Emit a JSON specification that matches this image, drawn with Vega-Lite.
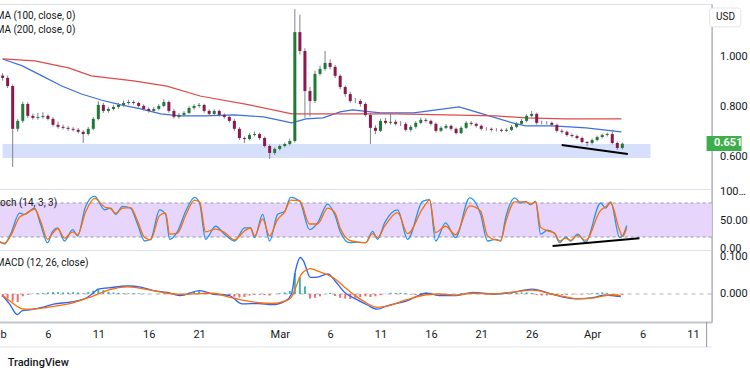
{
"$schema":"https://vega.github.io/schema/vega-lite/v6.json",
"background":"#ffffff",
"padding":{"left":-12.4,"top":3,"right":0,"bottom":0},
"spacing":0,
"bounds":"flush",
"config":{"view":{"stroke":"#e0e3eb"},"font":"Roboto","axis":{"labelFont":"Roboto","labelFontSize":11,"labelColor":"#131722","ticks":false,"grid":false,"domainColor":"#9598a1"}},
"datasets":{
"candles":[
{"day":0.5,"o":0.925,"h":0.935,"l":0.905,"c":0.916,"hist":-0.008},
{"day":1.0,"o":0.916,"h":0.925,"l":0.875,"c":0.883,"hist":-0.012},
{"day":1.5,"o":0.883,"h":0.890,"l":0.558,"c":0.711,"hist":-0.020},
{"day":2.0,"o":0.711,"h":0.750,"l":0.700,"c":0.743,"hist":-0.021},
{"day":2.5,"o":0.743,"h":0.820,"l":0.735,"c":0.811,"hist":-0.006},
{"day":3.0,"o":0.811,"h":0.818,"l":0.755,"c":0.763,"hist":-0.002},
{"day":3.5,"o":0.763,"h":0.772,"l":0.748,"c":0.755,"hist":0.001},
{"day":4.0,"o":0.755,"h":0.775,"l":0.748,"c":0.759,"hist":0.002},
{"day":4.5,"o":0.759,"h":0.778,"l":0.752,"c":0.763,"hist":0.003},
{"day":5.0,"o":0.763,"h":0.770,"l":0.745,"c":0.751,"hist":0.004},
{"day":5.5,"o":0.751,"h":0.758,"l":0.720,"c":0.727,"hist":0.005},
{"day":6.0,"o":0.727,"h":0.740,"l":0.712,"c":0.719,"hist":0.005},
{"day":6.5,"o":0.719,"h":0.728,"l":0.708,"c":0.715,"hist":0.004},
{"day":7.0,"o":0.715,"h":0.722,"l":0.703,"c":0.711,"hist":0.004},
{"day":7.5,"o":0.711,"h":0.718,"l":0.700,"c":0.707,"hist":0.005},
{"day":8.0,"o":0.707,"h":0.714,"l":0.692,"c":0.699,"hist":0.004},
{"day":8.5,"o":0.699,"h":0.705,"l":0.654,"c":0.690,"hist":0.002},
{"day":9.0,"o":0.690,"h":0.718,"l":0.684,"c":0.711,"hist":0.005},
{"day":9.5,"o":0.711,"h":0.758,"l":0.705,"c":0.751,"hist":0.009},
{"day":10.0,"o":0.751,"h":0.822,"l":0.745,"c":0.807,"hist":0.013},
{"day":10.5,"o":0.807,"h":0.815,"l":0.775,"c":0.783,"hist":0.010},
{"day":11.0,"o":0.783,"h":0.800,"l":0.776,"c":0.791,"hist":0.006},
{"day":11.5,"o":0.791,"h":0.808,"l":0.785,"c":0.799,"hist":0.004},
{"day":12.0,"o":0.799,"h":0.815,"l":0.792,"c":0.807,"hist":0.003},
{"day":12.5,"o":0.807,"h":0.825,"l":0.800,"c":0.815,"hist":0.002},
{"day":13.0,"o":0.815,"h":0.828,"l":0.808,"c":0.819,"hist":0.002},
{"day":13.5,"o":0.819,"h":0.826,"l":0.808,"c":0.815,"hist":0.002},
{"day":14.0,"o":0.815,"h":0.820,"l":0.796,"c":0.803,"hist":0.002},
{"day":14.5,"o":0.803,"h":0.810,"l":0.784,"c":0.791,"hist":0.001},
{"day":15.0,"o":0.791,"h":0.798,"l":0.776,"c":0.783,"hist":0.0},
{"day":15.5,"o":0.783,"h":0.798,"l":0.778,"c":0.791,"hist":0.0},
{"day":16.0,"o":0.791,"h":0.810,"l":0.785,"c":0.803,"hist":0.001},
{"day":16.5,"o":0.803,"h":0.830,"l":0.798,"c":0.819,"hist":0.002},
{"day":17.0,"o":0.819,"h":0.825,"l":0.776,"c":0.783,"hist":0.0},
{"day":17.5,"o":0.783,"h":0.790,"l":0.752,"c":0.759,"hist":-0.002},
{"day":18.0,"o":0.759,"h":0.774,"l":0.752,"c":0.767,"hist":-0.003},
{"day":18.5,"o":0.767,"h":0.782,"l":0.760,"c":0.775,"hist":0.001},
{"day":19.0,"o":0.775,"h":0.802,"l":0.770,"c":0.795,"hist":0.004},
{"day":19.5,"o":0.795,"h":0.810,"l":0.788,"c":0.803,"hist":0.006},
{"day":20.0,"o":0.803,"h":0.815,"l":0.796,"c":0.807,"hist":0.007},
{"day":20.5,"o":0.807,"h":0.812,"l":0.776,"c":0.783,"hist":0.003},
{"day":21.0,"o":0.783,"h":0.790,"l":0.764,"c":0.771,"hist":0.0},
{"day":21.5,"o":0.771,"h":0.790,"l":0.765,"c":0.783,"hist":-0.001},
{"day":22.0,"o":0.783,"h":0.788,"l":0.760,"c":0.767,"hist":-0.002},
{"day":22.5,"o":0.767,"h":0.774,"l":0.752,"c":0.759,"hist":-0.002},
{"day":23.0,"o":0.759,"h":0.765,"l":0.736,"c":0.743,"hist":-0.004},
{"day":23.5,"o":0.743,"h":0.750,"l":0.703,"c":0.711,"hist":-0.007},
{"day":24.0,"o":0.711,"h":0.718,"l":0.666,"c":0.674,"hist":-0.009},
{"day":24.5,"o":0.674,"h":0.680,"l":0.654,"c":0.670,"hist":-0.008},
{"day":25.0,"o":0.670,"h":0.694,"l":0.664,"c":0.686,"hist":-0.004},
{"day":25.5,"o":0.686,"h":0.700,"l":0.680,"c":0.690,"hist":-0.002},
{"day":26.0,"o":0.690,"h":0.696,"l":0.666,"c":0.674,"hist":-0.002},
{"day":26.5,"o":0.674,"h":0.680,"l":0.636,"c":0.642,"hist":-0.003},
{"day":27.0,"o":0.642,"h":0.648,"l":0.590,"c":0.614,"hist":-0.004},
{"day":27.5,"o":0.614,"h":0.636,"l":0.606,"c":0.630,"hist":0.0},
{"day":28.0,"o":0.630,"h":0.648,"l":0.624,"c":0.642,"hist":0.002},
{"day":28.5,"o":0.642,"h":0.656,"l":0.636,"c":0.650,"hist":0.004},
{"day":29.0,"o":0.650,"h":0.672,"l":0.644,"c":0.662,"hist":0.008},
{"day":29.5,"o":0.662,"h":1.193,"l":0.656,"c":1.100,"hist":0.055},
{"day":30.0,"o":1.100,"h":1.170,"l":1.010,"c":1.024,"hist":0.045},
{"day":30.5,"o":1.024,"h":1.035,"l":0.755,"c":0.863,"hist":0.020},
{"day":31.0,"o":0.863,"h":0.880,"l":0.760,"c":0.823,"hist":-0.012},
{"day":31.5,"o":0.823,"h":0.945,"l":0.815,"c":0.932,"hist":-0.010},
{"day":32.0,"o":0.932,"h":0.965,"l":0.925,"c":0.952,"hist":-0.006},
{"day":32.5,"o":0.952,"h":1.024,"l":0.945,"c":0.976,"hist":0.0},
{"day":33.0,"o":0.976,"h":0.990,"l":0.950,"c":0.960,"hist":0.003},
{"day":33.5,"o":0.960,"h":0.968,"l":0.915,"c":0.924,"hist":-0.005},
{"day":34.0,"o":0.924,"h":0.930,"l":0.870,"c":0.879,"hist":-0.010},
{"day":34.5,"o":0.879,"h":0.885,"l":0.840,"c":0.851,"hist":-0.012},
{"day":35.0,"o":0.851,"h":0.860,"l":0.815,"c":0.823,"hist":-0.013},
{"day":35.5,"o":0.823,"h":0.835,"l":0.814,"c":0.823,"hist":-0.010},
{"day":36.0,"o":0.823,"h":0.830,"l":0.800,"c":0.811,"hist":-0.008},
{"day":36.5,"o":0.811,"h":0.818,"l":0.760,"c":0.767,"hist":-0.006},
{"day":37.0,"o":0.767,"h":0.775,"l":0.650,"c":0.715,"hist":-0.008},
{"day":37.5,"o":0.715,"h":0.725,"l":0.690,"c":0.703,"hist":-0.006},
{"day":38.0,"o":0.703,"h":0.752,"l":0.698,"c":0.743,"hist":-0.003},
{"day":38.5,"o":0.743,"h":0.755,"l":0.728,"c":0.735,"hist":0.001},
{"day":39.0,"o":0.735,"h":0.771,"l":0.728,"c":0.739,"hist":0.003},
{"day":39.5,"o":0.739,"h":0.748,"l":0.724,"c":0.731,"hist":0.003},
{"day":40.0,"o":0.731,"h":0.742,"l":0.722,"c":0.731,"hist":0.003},
{"day":40.5,"o":0.731,"h":0.738,"l":0.700,"c":0.707,"hist":0.002},
{"day":41.0,"o":0.707,"h":0.726,"l":0.700,"c":0.719,"hist":-0.002},
{"day":41.5,"o":0.719,"h":0.742,"l":0.712,"c":0.735,"hist":-0.003},
{"day":42.0,"o":0.735,"h":0.756,"l":0.730,"c":0.747,"hist":0.003},
{"day":42.5,"o":0.747,"h":0.754,"l":0.736,"c":0.743,"hist":0.004},
{"day":43.0,"o":0.743,"h":0.748,"l":0.724,"c":0.731,"hist":0.003},
{"day":43.5,"o":0.731,"h":0.736,"l":0.696,"c":0.703,"hist":-0.004},
{"day":44.0,"o":0.703,"h":0.722,"l":0.698,"c":0.715,"hist":-0.003},
{"day":44.5,"o":0.715,"h":0.730,"l":0.709,"c":0.723,"hist":0.0},
{"day":45.0,"o":0.723,"h":0.728,"l":0.704,"c":0.711,"hist":-0.002},
{"day":45.5,"o":0.711,"h":0.716,"l":0.688,"c":0.694,"hist":-0.001},
{"day":46.0,"o":0.694,"h":0.722,"l":0.690,"c":0.715,"hist":0.002},
{"day":46.5,"o":0.715,"h":0.742,"l":0.710,"c":0.735,"hist":0.003},
{"day":47.0,"o":0.735,"h":0.742,"l":0.724,"c":0.731,"hist":0.003},
{"day":47.5,"o":0.731,"h":0.736,"l":0.716,"c":0.723,"hist":0.002},
{"day":48.0,"o":0.723,"h":0.728,"l":0.704,"c":0.711,"hist":0.0},
{"day":48.5,"o":0.711,"h":0.718,"l":0.704,"c":0.711,"hist":-0.001},
{"day":49.0,"o":0.711,"h":0.716,"l":0.700,"c":0.707,"hist":-0.001},
{"day":49.5,"o":0.707,"h":0.714,"l":0.700,"c":0.707,"hist":0.0},
{"day":50.0,"o":0.707,"h":0.712,"l":0.697,"c":0.703,"hist":0.001},
{"day":50.5,"o":0.703,"h":0.714,"l":0.698,"c":0.707,"hist":0.002},
{"day":51.0,"o":0.707,"h":0.726,"l":0.702,"c":0.719,"hist":0.003},
{"day":51.5,"o":0.719,"h":0.738,"l":0.714,"c":0.731,"hist":0.003},
{"day":52.0,"o":0.731,"h":0.750,"l":0.726,"c":0.743,"hist":0.004},
{"day":52.5,"o":0.743,"h":0.770,"l":0.738,"c":0.763,"hist":0.004},
{"day":53.0,"o":0.763,"h":0.783,"l":0.756,"c":0.771,"hist":0.003},
{"day":53.5,"o":0.771,"h":0.776,"l":0.728,"c":0.735,"hist":-0.003},
{"day":54.0,"o":0.735,"h":0.744,"l":0.728,"c":0.735,"hist":-0.004},
{"day":54.5,"o":0.735,"h":0.742,"l":0.728,"c":0.735,"hist":-0.004},
{"day":55.0,"o":0.735,"h":0.740,"l":0.720,"c":0.727,"hist":-0.003},
{"day":55.5,"o":0.727,"h":0.732,"l":0.696,"c":0.703,"hist":-0.004},
{"day":56.0,"o":0.703,"h":0.710,"l":0.692,"c":0.699,"hist":-0.003},
{"day":56.5,"o":0.699,"h":0.704,"l":0.680,"c":0.686,"hist":-0.002},
{"day":57.0,"o":0.686,"h":0.692,"l":0.676,"c":0.682,"hist":-0.001},
{"day":57.5,"o":0.682,"h":0.688,"l":0.668,"c":0.674,"hist":-0.001},
{"day":58.0,"o":0.674,"h":0.680,"l":0.652,"c":0.658,"hist":-0.001},
{"day":58.5,"o":0.658,"h":0.662,"l":0.642,"c":0.654,"hist":0.001},
{"day":59.0,"o":0.654,"h":0.672,"l":0.648,"c":0.666,"hist":0.002},
{"day":59.5,"o":0.666,"h":0.684,"l":0.660,"c":0.678,"hist":0.003},
{"day":60.0,"o":0.678,"h":0.692,"l":0.672,"c":0.686,"hist":0.004},
{"day":60.5,"o":0.686,"h":0.696,"l":0.680,"c":0.690,"hist":0.003},
{"day":61.0,"o":0.690,"h":0.707,"l":0.648,"c":0.654,"hist":-0.002},
{"day":61.5,"o":0.654,"h":0.660,"l":0.626,"c":0.634,"hist":-0.003},
{"day":62.0,"o":0.634,"h":0.656,"l":0.628,"c":0.651,"hist":-0.002}
],
"ma":[
{"day":0.5,"v":0.992,"s":"a"},{"day":2.46,"v":0.964,"s":"a"},{"day":4.41,"v":0.924,"s":"a"},{"day":6.37,"v":0.883,"s":"a"},{"day":8.33,"v":0.851,"s":"a"},{"day":10.28,"v":0.827,"s":"a"},{"day":12.24,"v":0.807,"s":"a"},{"day":14.2,"v":0.791,"s":"a"},{"day":16.2,"v":0.771,"s":"a"},{"day":18.1,"v":0.763,"s":"a"},{"day":20.6,"v":0.763,"s":"a"},{"day":23.5,"v":0.767,"s":"a"},{"day":26.4,"v":0.759,"s":"a"},{"day":29.2,"v":0.735,"s":"a"},{"day":30.6,"v":0.751,"s":"a"},{"day":32.3,"v":0.755,"s":"a"},{"day":34.0,"v":0.779,"s":"a"},{"day":35.2,"v":0.787,"s":"a"},{"day":38.0,"v":0.775,"s":"a"},{"day":41.3,"v":0.775,"s":"a"},{"day":45.8,"v":0.799,"s":"a"},{"day":47.8,"v":0.775,"s":"a"},{"day":51.1,"v":0.735,"s":"a"},{"day":52.4,"v":0.723,"s":"a"},{"day":55.1,"v":0.723,"s":"a"},{"day":58.4,"v":0.715,"s":"a"},{"day":61.9,"v":0.699,"s":"a"},
{"day":0.5,"v":0.992,"s":"b"},{"day":3.7,"v":0.984,"s":"b"},{"day":7.05,"v":0.956,"s":"b"},{"day":9.3,"v":0.924,"s":"b"},{"day":13.5,"v":0.904,"s":"b"},{"day":16.8,"v":0.883,"s":"b"},{"day":20.1,"v":0.843,"s":"b"},{"day":25.0,"v":0.807,"s":"b"},{"day":29.2,"v":0.771,"s":"b"},{"day":35.2,"v":0.771,"s":"b"},{"day":39.6,"v":0.771,"s":"b"},{"day":44.5,"v":0.767,"s":"b"},{"day":49.4,"v":0.763,"s":"b"},{"day":52.4,"v":0.755,"s":"b"},{"day":56.3,"v":0.751,"s":"b"},{"day":61.9,"v":0.751,"s":"b"}
],
"stoch":[{"day":0.5,"k":13,"d":14},{"day":1.18,"k":8,"d":9},{"day":1.77,"k":25,"d":22},{"day":2.65,"k":62,"d":55},{"day":3.14,"k":60,"d":60},{"day":4.12,"k":71,"d":69},{"day":4.71,"k":42,"d":48},{"day":5.39,"k":10,"d":16},{"day":5.88,"k":30,"d":26},{"day":6.37,"k":36,"d":35},{"day":7.05,"k":13,"d":18},{"day":7.84,"k":33,"d":29},{"day":8.33,"k":22,"d":24},{"day":9.11,"k":74,"d":64},{"day":9.99,"k":92,"d":88},{"day":10.97,"k":68,"d":73},{"day":11.56,"k":71,"d":70},{"day":12.05,"k":60,"d":62},{"day":12.73,"k":74,"d":71},{"day":13.51,"k":71,"d":72},{"day":14.2,"k":42,"d":48},{"day":14.88,"k":13,"d":19},{"day":15.47,"k":16,"d":15},{"day":16.35,"k":68,"d":58},{"day":16.94,"k":60,"d":62},{"day":17.33,"k":16,"d":25},{"day":18.11,"k":30,"d":27},{"day":18.89,"k":65,"d":58},{"day":19.77,"k":90,"d":85},{"day":20.26,"k":80,"d":82},{"day":20.85,"k":16,"d":29},{"day":21.83,"k":39,"d":34},{"day":22.71,"k":25,"d":28},{"day":23.69,"k":13,"d":15},{"day":24.67,"k":36,"d":31},{"day":25.25,"k":36,"d":36},{"day":25.65,"k":19,"d":22},{"day":26.43,"k":60,"d":52},{"day":27.11,"k":13,"d":22},{"day":27.9,"k":60,"d":51},{"day":28.58,"k":65,"d":64},{"day":29.17,"k":90,"d":85},{"day":30.05,"k":83,"d":84},{"day":31.03,"k":33,"d":43},{"day":31.81,"k":45,"d":43},{"day":32.79,"k":78,"d":71},{"day":33.47,"k":60,"d":64},{"day":34.06,"k":28,"d":34},{"day":34.94,"k":10,"d":14},{"day":35.72,"k":11,"d":11},{"day":36.51,"k":10,"d":10},{"day":37.19,"k":30,"d":26},{"day":37.68,"k":16,"d":19},{"day":38.37,"k":45,"d":39},{"day":39.64,"k":68,"d":63},{"day":40.62,"k":16,"d":26},{"day":42.08,"k":83,"d":70},{"day":42.77,"k":86,"d":85},{"day":43.36,"k":13,"d":28},{"day":44.33,"k":45,"d":39},{"day":45.31,"k":19,"d":24},{"day":46.68,"k":89,"d":75},{"day":47.76,"k":60,"d":66},{"day":48.44,"k":13,"d":22},{"day":49.23,"k":16,"d":15},{"day":49.72,"k":13,"d":14},{"day":50.21,"k":54,"d":46},{"day":51.09,"k":89,"d":82},{"day":51.67,"k":80,"d":82},{"day":52.16,"k":83,"d":82},{"day":52.65,"k":77,"d":78},{"day":53.14,"k":83,"d":82},{"day":53.63,"k":25,"d":37},{"day":54.31,"k":32,"d":31},{"day":55.0,"k":26,"d":27},{"day":55.49,"k":10,"d":13},{"day":56.08,"k":20,"d":18},{"day":56.57,"k":13,"d":14},{"day":57.25,"k":25,"d":23},{"day":58.03,"k":11,"d":14},{"day":59.5,"k":80,"d":67},{"day":59.99,"k":71,"d":73},{"day":60.48,"k":82,"d":80},{"day":61.36,"k":19,"d":32},{"day":61.65,"k":22,"d":21},{"day":62.05,"k":40,"d":36}],
"macd":[{"day":0.5,"m":-0.004,"s":-0.004},{"day":1.18,"m":-0.026,"s":-0.018},{"day":1.97,"m":-0.054,"s":-0.033},{"day":2.46,"m":-0.044,"s":-0.039},{"day":3.14,"m":-0.042,"s":-0.04},{"day":4.41,"m":-0.035,"s":-0.037},{"day":5.68,"m":-0.026,"s":-0.032},{"day":7.05,"m":-0.022,"s":-0.026},{"day":8.62,"m":-0.013,"s":-0.013},{"day":9.6,"m":0.005,"s":-0.004},{"day":9.99,"m":0.013,"s":0.0},{"day":10.97,"m":0.016,"s":0.01},{"day":12.93,"m":0.021,"s":0.019},{"day":14.2,"m":0.018,"s":0.015},{"day":15.47,"m":0.009,"s":0.009},{"day":16.84,"m":0.004,"s":0.002},{"day":18.11,"m":-0.004,"s":-0.001},{"day":20.07,"m":0.009,"s":0.001},{"day":21.34,"m":0.0,"s":0.002},{"day":23.0,"m":-0.004,"s":-0.008},{"day":24.28,"m":-0.026,"s":-0.016},{"day":25.94,"m":-0.025,"s":-0.023},{"day":27.21,"m":-0.028,"s":-0.025},{"day":28.58,"m":-0.018,"s":-0.018},{"day":29.17,"m":0.0,"s":-0.008},{"day":29.56,"m":0.061,"s":0.015},{"day":30.05,"m":0.096,"s":0.048},{"day":30.34,"m":0.088,"s":0.058},{"day":31.03,"m":0.044,"s":0.067},{"day":31.61,"m":0.044,"s":0.062},{"day":32.79,"m":0.053,"s":0.05},{"day":33.47,"m":0.035,"s":0.04},{"day":34.45,"m":0.004,"s":0.018},{"day":35.53,"m":-0.013,"s":-0.005},{"day":36.7,"m":-0.029,"s":-0.025},{"day":37.68,"m":-0.04,"s":-0.035},{"day":38.66,"m":-0.031,"s":-0.032},{"day":40.62,"m":-0.018,"s":-0.015},{"day":42.57,"m":0.002,"s":-0.002},{"day":43.85,"m":-0.004,"s":0.0},{"day":45.51,"m":-0.004,"s":-0.003},{"day":47.17,"m":0.004,"s":0.002},{"day":49.13,"m":0.0,"s":0.0},{"day":51.09,"m":0.004,"s":0.005},{"day":53.04,"m":0.013,"s":0.01},{"day":55.0,"m":0.0,"s":0.0},{"day":56.27,"m":-0.009,"s":-0.007},{"day":57.54,"m":-0.013,"s":-0.012},{"day":59.21,"m":-0.009,"s":-0.01},{"day":60.19,"m":-0.003,"s":-0.005},{"day":60.97,"m":-0.004,"s":-0.002},{"day":61.85,"m":-0.007,"s":-0.005}],
"notes":[{"g":"main","day":-0.19,"v":1.165,"t":"MA (100, close, 0)"},{"g":"main","day":-0.19,"v":1.107,"t":"MA (200, close, 0)"},{"g":"stoch","day":-0.15,"v":80,"t":"Stoch (14, 3, 3)"},{"g":"macd","day":-0.19,"v":0.081,"t":"MACD (12, 26, close)"}]
},
"vconcat":[
{"width":714,"height":185,
"layer":[
{"data":{"values":[{"day":0.5,"day2":64.8,"lo":0.594,"hi":0.650}]},"mark":{"type":"rect","color":"#d6e0fb"},
"encoding":{"x":{"field":"day","type":"quantitative","scale":{"domain":[0.5,70.36],"nice":false,"zero":false},"axis":null},"x2":{"field":"day2"},
"y":{"field":"lo","type":"quantitative","title":null,"scale":{"domain":[0.469,1.213],"nice":false,"zero":false},"axis":{"orient":"right","values":[0.6,0.8,1.0],"format":".3f","labelPadding":8,"title":null}},"y2":{"field":"hi"}}},
{"data":{"name":"ma"},"mark":{"type":"line","strokeWidth":1.2},
"encoding":{"x":{"field":"day","type":"quantitative","scale":{"domain":[0.5,70.36],"nice":false,"zero":false},"axis":null},
"y":{"field":"v","type":"quantitative","title":null,"scale":{"domain":[0.469,1.213],"nice":false,"zero":false}},
"color":{"field":"s","type":"nominal","scale":{"domain":["a","b"],"range":["#3d6fdc","#e04a4a"]},"legend":null}}},
{"data":{"name":"candles"},"mark":{"type":"rule","color":"#80838c","strokeWidth":1},
"encoding":{"x":{"field":"day","type":"quantitative","scale":{"domain":[0.5,70.36],"nice":false,"zero":false},"axis":null},
"y":{"field":"l","type":"quantitative","title":null,"scale":{"domain":[0.469,1.213],"nice":false,"zero":false}},"y2":{"field":"h"}}},
{"data":{"name":"candles"},"mark":{"type":"bar","size":3},
"encoding":{"x":{"field":"day","type":"quantitative","scale":{"domain":[0.5,70.36],"nice":false,"zero":false},"axis":null},
"y":{"field":"o","type":"quantitative","title":null,"scale":{"domain":[0.469,1.213],"nice":false,"zero":false}},"y2":{"field":"c"},
"color":{"condition":{"test":"datum.c >= datum.o","value":"#1f7a35"},"value":"#8b1a4b"}}},
{"data":{"values":[{"day":55.98,"v":0.646},{"day":62.54,"v":0.610}]},"mark":{"type":"line","color":"#000000","strokeWidth":2},
"encoding":{"x":{"field":"day","type":"quantitative","scale":{"domain":[0.5,70.36],"nice":false,"zero":false},"axis":null},
"y":{"field":"v","type":"quantitative","title":null,"scale":{"domain":[0.469,1.213],"nice":false,"zero":false}}}},
{"data":{"name":"notes"},"transform":[{"filter":"datum.g == 'main'"}],"mark":{"type":"text","align":"left","baseline":"middle","fontSize":10,"color":"#131722","clip":true},
"encoding":{"x":{"field":"day","type":"quantitative","scale":{"domain":[0.5,70.36],"nice":false,"zero":false},"axis":null},
"y":{"field":"v","type":"quantitative","title":null,"scale":{"domain":[0.469,1.213],"nice":false,"zero":false}},"text":{"field":"t"}}},
{"data":{"values":[{"day":70.66,"day2":73.76,"lo":1.121,"hi":1.197}]},"mark":{"type":"rect","fill":"#ffffff","stroke":"#e0e3eb","cornerRadius":3},
"encoding":{"x":{"field":"day","type":"quantitative","scale":{"domain":[0.5,70.36],"nice":false,"zero":false},"axis":null},"x2":{"field":"day2"},
"y":{"field":"lo","type":"quantitative","title":null,"scale":{"domain":[0.469,1.213],"nice":false,"zero":false}},"y2":{"field":"hi"}}},
{"data":{"values":[{"day":71.3,"v":1.159,"t":"USD"}]},"mark":{"type":"text","align":"left","baseline":"middle","fontSize":10,"color":"#131722"},
"encoding":{"x":{"field":"day","type":"quantitative","scale":{"domain":[0.5,70.36],"nice":false,"zero":false},"axis":null},
"y":{"field":"v","type":"quantitative","title":null,"scale":{"domain":[0.469,1.213],"nice":false,"zero":false}},"text":{"field":"t"}}},
{"data":{"values":[{"day":70.36,"day2":73.83,"lo":0.622,"hi":0.682}]},"mark":{"type":"rect","fill":"#3dae4b"},
"encoding":{"x":{"field":"day","type":"quantitative","scale":{"domain":[0.5,70.36],"nice":false,"zero":false},"axis":null},"x2":{"field":"day2"},
"y":{"field":"lo","type":"quantitative","title":null,"scale":{"domain":[0.469,1.213],"nice":false,"zero":false}},"y2":{"field":"hi"}}},
{"data":{"values":[{"day":71.1,"v":0.652,"t":"0.651"}]},"mark":{"type":"text","align":"left","baseline":"middle","fontSize":11,"fontWeight":"bold","color":"#ffffff"},
"encoding":{"x":{"field":"day","type":"quantitative","scale":{"domain":[0.5,70.36],"nice":false,"zero":false},"axis":null},
"y":{"field":"v","type":"quantitative","title":null,"scale":{"domain":[0.469,1.213],"nice":false,"zero":false}},"text":{"field":"t"}}}
]},
{"width":714,"height":61,
"layer":[
{"data":{"values":[{"day":0.5,"day2":70.36,"lo":20,"hi":80}]},"mark":{"type":"rect","color":"#e8d5fb"},
"encoding":{"x":{"field":"day","type":"quantitative","scale":{"domain":[0.5,70.36],"nice":false,"zero":false},"axis":null},"x2":{"field":"day2"},
"y":{"field":"lo","type":"quantitative","title":null,"scale":{"domain":[-2.9,104.7],"nice":false,"zero":false},"axis":{"orient":"right","values":[0,50],"format":".2f","labelPadding":8,"title":null}},"y2":{"field":"hi"}}},
{"data":{"values":[{"v":20},{"v":80}]},"mark":{"type":"rule","color":"#9598a1","strokeDash":[3,3],"strokeWidth":1},
"encoding":{"y":{"field":"v","type":"quantitative","title":null,"scale":{"domain":[-2.9,104.7],"nice":false,"zero":false}}}},
{"data":{"name":"stoch"},"mark":{"type":"line","color":"#2196f3","strokeWidth":1.3,"interpolate":"monotone"},
"encoding":{"x":{"field":"day","type":"quantitative","scale":{"domain":[0.5,70.36],"nice":false,"zero":false},"axis":null},
"y":{"field":"k","type":"quantitative","title":null,"scale":{"domain":[-2.9,104.7],"nice":false,"zero":false}}}},
{"data":{"name":"stoch"},"mark":{"type":"line","color":"#ff6d00","strokeWidth":1.3,"interpolate":"monotone"},
"encoding":{"x":{"field":"day","type":"quantitative","scale":{"domain":[0.5,70.36],"nice":false,"zero":false},"axis":null},
"y":{"field":"d","type":"quantitative","title":null,"scale":{"domain":[-2.9,104.7],"nice":false,"zero":false}}}},
{"data":{"values":[{"day":54.8,"v":4},{"day":63.3,"v":18}]},"mark":{"type":"line","color":"#000000","strokeWidth":2},
"encoding":{"x":{"field":"day","type":"quantitative","scale":{"domain":[0.5,70.36],"nice":false,"zero":false},"axis":null},
"y":{"field":"v","type":"quantitative","title":null,"scale":{"domain":[-2.9,104.7],"nice":false,"zero":false}}}},
{"data":{"name":"notes"},"transform":[{"filter":"datum.g == 'stoch'"}],"mark":{"type":"text","align":"left","baseline":"middle","fontSize":10,"color":"#131722","clip":true},
"encoding":{"x":{"field":"day","type":"quantitative","scale":{"domain":[0.5,70.36],"nice":false,"zero":false},"axis":null},
"y":{"field":"v","type":"quantitative","title":null,"scale":{"domain":[-2.9,104.7],"nice":false,"zero":false}},"text":{"field":"t"}}},
{"data":{"values":[{"day":71.18,"v":100,"t":"100.00"}]},"mark":{"type":"text","align":"left","baseline":"middle","fontSize":11,"color":"#131722","limit":28,"ellipsis":""},
"encoding":{"x":{"field":"day","type":"quantitative","scale":{"domain":[0.5,70.36],"nice":false,"zero":false},"axis":null},
"y":{"field":"v","type":"quantitative","title":null,"scale":{"domain":[-2.9,104.7],"nice":false,"zero":false}},"text":{"field":"t"}}}
]},
{"width":714,"height":72,
"layer":[
{"data":{"values":[{"v":0}]},"mark":{"type":"rule","color":"#b2b5be","strokeDash":[4,4],"strokeWidth":1},
"encoding":{"y":{"field":"v","type":"quantitative","title":null,"scale":{"domain":[-0.0737,0.1158],"nice":false,"zero":false},"axis":{"orient":"right","values":[0,0.1],"format":".3f","labelPadding":8,"title":null}}}},
{"data":{"name":"candles"},"mark":{"type":"bar","size":2},
"encoding":{"x":{"field":"day","type":"quantitative","title":null,"scale":{"domain":[0.5,70.36],"nice":false,"zero":false},
"axis":{"orient":"bottom","values":[5,10,15,20,28,33,38,43,48,53,59,64,69],"labelExpr":"datum.value==28?'Mar':datum.value==59?'Apr':datum.value<28?''+(datum.value+1):datum.value<59?''+(datum.value-27):''+(datum.value-58)","labelPadding":7,"labelFontSize":11,"labelFlush":false,"labelOverlap":false,"labelBound":false,"domain":true,"domainColor":"#c3c6ce","domainWidth":2,"title":null}},
"y":{"field":"hist","type":"quantitative","title":null,"scale":{"domain":[-0.0737,0.1158],"nice":false,"zero":false}},"y2":{"datum":0},
"color":{"condition":{"test":"datum.hist >= 0","value":"#26a69a"},"value":"#ef5350"},"opacity":{"value":0.85}}},
{"data":{"name":"macd"},"mark":{"type":"line","color":"#2962ff","strokeWidth":1.3,"interpolate":"monotone"},
"encoding":{"x":{"field":"day","type":"quantitative","title":null,"scale":{"domain":[0.5,70.36],"nice":false,"zero":false}},
"y":{"field":"m","type":"quantitative","title":null,"scale":{"domain":[-0.0737,0.1158],"nice":false,"zero":false}}}},
{"data":{"name":"macd"},"mark":{"type":"line","color":"#ff6d00","strokeWidth":1.3,"interpolate":"monotone"},
"encoding":{"x":{"field":"day","type":"quantitative","title":null,"scale":{"domain":[0.5,70.36],"nice":false,"zero":false}},
"y":{"field":"s","type":"quantitative","title":null,"scale":{"domain":[-0.0737,0.1158],"nice":false,"zero":false}}}},
{"data":{"name":"notes"},"transform":[{"filter":"datum.g == 'macd'"}],"mark":{"type":"text","align":"left","baseline":"middle","fontSize":10,"color":"#131722","clip":true},
"encoding":{"x":{"field":"day","type":"quantitative","title":null,"scale":{"domain":[0.5,70.36],"nice":false,"zero":false}},
"y":{"field":"v","type":"quantitative","title":null,"scale":{"domain":[-0.0737,0.1158],"nice":false,"zero":false}},"text":{"field":"t"}}},
{"data":{"values":[{"v":-0.1395}]},"mark":{"type":"rule","color":"#e0e3eb","strokeWidth":1},
"encoding":{"y":{"field":"v","type":"quantitative","title":null,"scale":{"domain":[-0.0737,0.1158],"nice":false,"zero":false}}}},
{"data":{"values":[{"day":70.36,"lo":-0.0737,"hi":-0.1395}]},"mark":{"type":"rule","color":"#9598a1","strokeWidth":1},
"encoding":{"x":{"field":"day","type":"quantitative","title":null,"scale":{"domain":[0.5,70.36],"nice":false,"zero":false}},
"y":{"field":"lo","type":"quantitative","title":null,"scale":{"domain":[-0.0737,0.1158],"nice":false,"zero":false}},"y2":{"field":"hi"}}},
{"data":{"values":[{"day":0.0,"v":-0.1079,"t":"Feb"}]},"mark":{"type":"text","align":"center","baseline":"middle","fontSize":11,"color":"#131722"},
"encoding":{"x":{"field":"day","type":"quantitative","title":null,"scale":{"domain":[0.5,70.36],"nice":false,"zero":false}},
"y":{"field":"v","type":"quantitative","title":null,"scale":{"domain":[-0.0737,0.1158],"nice":false,"zero":false}},"text":{"field":"t"}}},
{"data":{"values":[{"day":1.0,"v":-0.1816,"t":"TradingView"}]},"mark":{"type":"text","align":"left","baseline":"middle","fontSize":11,"fontWeight":500,"color":"#131722"},
"encoding":{"x":{"field":"day","type":"quantitative","title":null,"scale":{"domain":[0.5,70.36],"nice":false,"zero":false}},
"y":{"field":"v","type":"quantitative","title":null,"scale":{"domain":[-0.0737,0.1158],"nice":false,"zero":false}},"text":{"field":"t"}}}
]}
]
}
